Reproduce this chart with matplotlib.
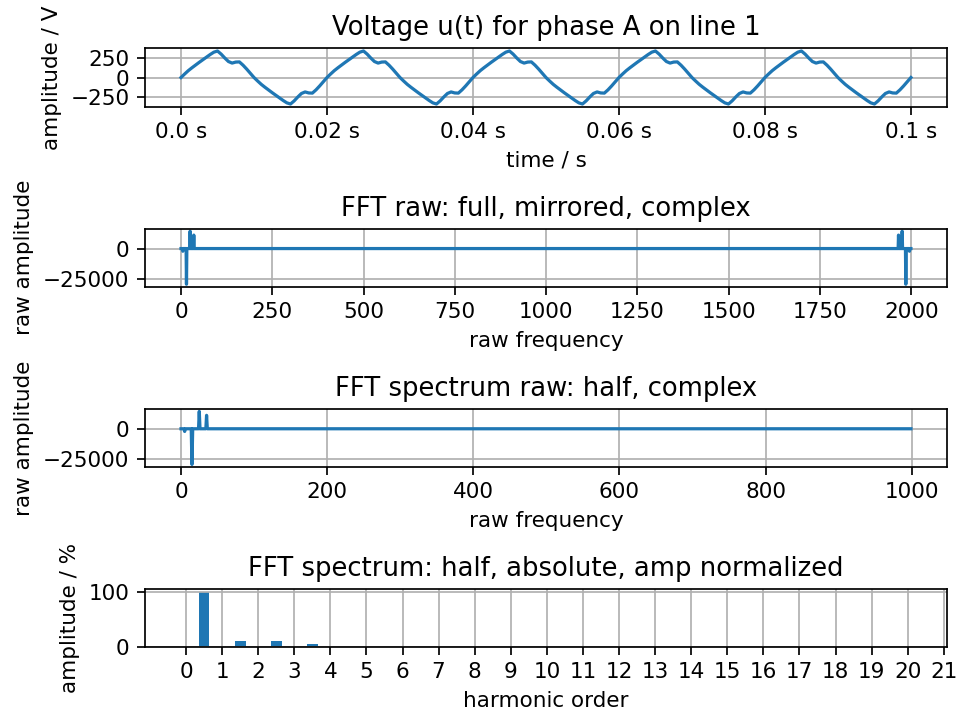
import numpy as np
import matplotlib
matplotlib.use("Agg")
import matplotlib.pyplot as plt

# one period of the voltage (0 .. 19.5 ms, step 0.5 ms)
period_u = [0, 45, 88, 125, 160, 195, 228, 262, 295, 325,
            340, 300, 250, 205, 185, 198, 200, 158, 108, 54,
            0, -45, -88, -125, -160, -195, -228, -262, -295, -325,
            -340, -300, -250, -205, -185, -198, -200, -158, -108, -54]
n_periods = 5
dt = 0.0005
time_ticks = [0.0, 0.02, 0.04, 0.06, 0.08, 0.1]
time_labels = ["0.0 s", "0.02 s", "0.04 s", "0.06 s", "0.08 s", "0.1 s"]

# real part of the fft (only non zero bins)
n_fft = 2000
full_bins = [5, 15, 25, 35, 1965, 1975, 1985, 1995]
full_vals = [-2200, -29200, 14200, 11000, 11000, 14200, -29200, -2200]
half_bins = [5, 15, 25, 35]
half_vals = [-2200, -29200, 14200, 11000]

# harmonic spectrum in percent
harm_x = [0.5, 1.5, 2.5, 3.5]
harm_amp = [100, 12, 12, 6]

u = np.append(np.tile(period_u, n_periods), 0)
t = np.arange(len(u)) * dt

fft_full = np.zeros(n_fft)
fft_full[full_bins] = full_vals
fft_half = np.zeros(n_fft // 2)
fft_half[half_bins] = half_vals

DPI = 155
fig, ax = plt.subplots(4, 1, figsize=(957 / DPI, 711 / DPI), dpi=DPI)
fig.subplots_adjust(left=0.151, right=0.990, top=0.932, bottom=0.0896, hspace=2.09)

ax[0].plot(t, u)
ax[0].set_title("Voltage u(t) for phase A on line 1")
ax[0].set_xlabel("time / s")
ax[0].set_ylabel("amplitude / V")
ax[0].set_xticks(time_ticks)
ax[0].set_xticklabels(time_labels)
ax[0].set_yticks([-250, 0, 250])
ax[0].grid()

ax[1].plot(fft_full)
ax[1].set_title("FFT raw: full, mirrored, complex")
ax[1].set_xlabel("raw frequency")
ax[1].set_ylabel("raw amplitude")
ax[1].set_yticks([-25000, 0])
ax[1].grid()

ax[2].plot(fft_half)
ax[2].set_title("FFT spectrum raw: half, complex")
ax[2].set_xlabel("raw frequency")
ax[2].set_ylabel("raw amplitude")
ax[2].set_yticks([-25000, 0])
ax[2].grid()

ax[3].bar(harm_x, harm_amp, width=0.3)
ax[3].set_title("FFT spectrum: half, absolute, amp normalized")
ax[3].set_xlabel("harmonic order")
ax[3].set_ylabel("amplitude / %")
ax[3].set_xticks(range(22))
ax[3].set_xlim(-1.15, 21.1)
ax[3].set_ylim(0, 105)
ax[3].grid()

fig.savefig("out.png", dpi=DPI)
